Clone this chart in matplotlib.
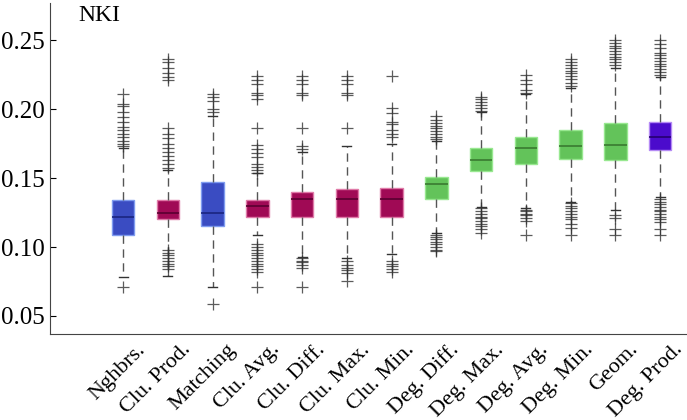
import matplotlib.pyplot as plt
from matplotlib.transforms import ScaledTranslation, blended_transform_factory

plt.rcParams['font.family'] = ['Liberation Serif', 'DejaVu Serif']

labels = ['Nghbrs.', 'Clu. Prod.', 'Matching', 'Clu. Avg.', 'Clu. Diff.', 'Clu. Max.',
          'Clu. Min.', 'Deg. Diff.', 'Deg. Max.', 'Deg. Avg.', 'Deg. Min.', 'Geom.', 'Deg. Prod.']

q1 = [0.109, 0.120, 0.115, 0.122, 0.122, 0.122, 0.122, 0.135, 0.155, 0.160, 0.164, 0.163, 0.170]
med = [0.122, 0.125, 0.125, 0.130, 0.135, 0.135, 0.135, 0.146, 0.163, 0.172, 0.173, 0.174, 0.180]
q3 = [0.134, 0.134, 0.147, 0.134, 0.140, 0.142, 0.143, 0.151, 0.172, 0.180, 0.185, 0.190, 0.191]
whislo = [0.078, 0.079, 0.071, 0.109, 0.093, 0.092, 0.095, 0.110, 0.129, 0.128, 0.133, 0.127, 0.136]
whishi = [0.172, 0.156, 0.195, 0.154, 0.169, 0.173, 0.175, 0.177, 0.198, 0.211, 0.215, 0.230, 0.223]

fliers = [
    [0.211, 0.204, 0.202, 0.198, 0.194, 0.191, 0.187, 0.185, 0.182, 0.180, 0.177, 0.175, 0.173, 0.071],
    [0.236, 0.234, 0.230, 0.226, 0.223, 0.221, 0.186, 0.182, 0.179, 0.175, 0.172, 0.169, 0.166,
     0.163, 0.160, 0.157, 0.098, 0.096, 0.094, 0.092, 0.090, 0.088, 0.086, 0.084],
    [0.211, 0.209, 0.206, 0.200, 0.198, 0.059],
    [0.224, 0.221, 0.218, 0.212, 0.210, 0.207, 0.186, 0.174, 0.171, 0.168, 0.165, 0.160, 0.158,
     0.156, 0.154, 0.102, 0.100, 0.098, 0.096, 0.094, 0.092, 0.090, 0.088, 0.086, 0.084, 0.082, 0.071],
    [0.224, 0.221, 0.218, 0.212, 0.210, 0.186, 0.173, 0.171, 0.092, 0.090, 0.089, 0.087, 0.085, 0.071],
    [0.224, 0.221, 0.218, 0.212, 0.210, 0.186, 0.090, 0.087, 0.085, 0.083, 0.081, 0.075],
    [0.224, 0.201, 0.197, 0.191, 0.189, 0.185, 0.182, 0.180, 0.090, 0.088, 0.086, 0.084, 0.082],
    [0.195, 0.192, 0.190, 0.188, 0.186, 0.184, 0.182, 0.180, 0.178, 0.109, 0.107, 0.106, 0.104,
     0.102, 0.100, 0.098, 0.097],
    [0.209, 0.207, 0.205, 0.203, 0.201, 0.199, 0.128, 0.126, 0.124, 0.122, 0.121, 0.119, 0.117,
     0.115, 0.113, 0.110],
    [0.225, 0.221, 0.218, 0.214, 0.212, 0.127, 0.126, 0.124, 0.123, 0.121, 0.119, 0.109],
    [0.236, 0.234, 0.232, 0.230, 0.228, 0.226, 0.224, 0.222, 0.219, 0.217, 0.132, 0.130, 0.128,
     0.126, 0.124, 0.122, 0.120, 0.117, 0.114, 0.109],
    [0.250, 0.248, 0.246, 0.244, 0.242, 0.240, 0.238, 0.236, 0.234, 0.232, 0.123, 0.121, 0.113, 0.109],
    [0.250, 0.247, 0.244, 0.241, 0.239, 0.237, 0.235, 0.233, 0.231, 0.229, 0.227, 0.225, 0.135,
     0.133, 0.131, 0.129, 0.127, 0.126, 0.124, 0.122, 0.120, 0.118, 0.113, 0.109],
]

# groups: 0 = blue, 1 = clustering (magenta), 2 = degree (green), 3 = purple
group = [0, 1, 0, 1, 1, 1, 1, 2, 2, 2, 2, 2, 3]
fill = ['#3a4cc2', '#a00a55', '#63c35a', '#4b0bcc']
edge = ['#7f9cf0', '#e07aa8', '#98e890', '#b58af5']
medc = ['#1a2580', '#5a0030', '#3a7a30', '#250070']

stats = []
for i in range(len(labels)):
    stats.append(dict(q1=q1[i], med=med[i], q3=q3[i], whislo=whislo[i],
                      whishi=whishi[i], fliers=fliers[i], label=labels[i]))

fig = plt.figure(figsize=(6.87, 4.2), dpi=100)
ax = fig.add_axes([0.073, 0.205, 0.927, 0.788])

pos = list(range(1, len(labels) + 1))
bp = ax.bxp(stats, positions=pos, widths=0.5, patch_artist=True,
            whiskerprops=dict(color='#555555', linestyle=(0, (6, 4)), linewidth=1),
            capprops=dict(color='#333333', linewidth=1),
            flierprops=dict(marker='+', markeredgecolor='#333333', markersize=8,
                            markeredgewidth=0.9, alpha=0.8),
            capwidths=0.2)

for i, b in enumerate(bp['boxes']):
    g = group[i]
    b.set_facecolor(fill[g])
    b.set_edgecolor(edge[g])
    b.set_linewidth(1)
    bp['medians'][i].set_color(medc[g])
    bp['medians'][i].set_linewidth(1.2)

ax.set_xlim(-0.63, 13.6)
ax.set_ylim(0.037, 0.277)
ax.set_yticks([0.05, 0.10, 0.15, 0.20, 0.25])
ax.set_yticklabels(['0.05', '0.10', '0.15', '0.20', '0.25'])
ax.set_xticks([])

# rotated category labels, anchored a little right of each box
trans = blended_transform_factory(ax.transData, ax.transAxes) + \
    ScaledTranslation(0.2, -0.13, fig.dpi_scale_trans)
for p, lab in zip(pos, labels):
    ax.text(p, 0, lab, transform=trans, rotation=45, ha='right', va='center',
            rotation_mode='anchor', fontsize=16)

ax.tick_params(axis='y', direction='in', length=4, labelsize=18, pad=4)
for s in ['top', 'right']:
    ax.spines[s].set_visible(False)
ax.spines['left'].set_color('#444444')
ax.spines['bottom'].set_color('#444444')
ax.text(0.044, 0.993, 'NKI', transform=ax.transAxes, fontsize=17, va='top', ha='left')

fig.savefig('out.png', dpi=100)
